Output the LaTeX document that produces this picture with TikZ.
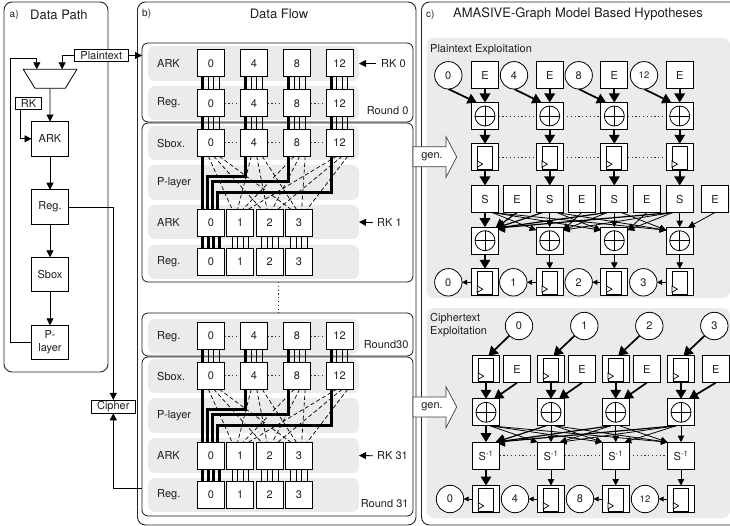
\documentclass[tikz,border=0pt]{standalone}
\usepackage{fontspec}
\setmainfont{TeX Gyre Heros}
\usetikzlibrary{arrows.meta}
\pgfdeclarelayer{back}\pgfdeclarelayer{wire}
\pgfsetlayers{back,wire,main}
\tikzset{
  x=1pt,y=-1pt,
  every node/.style={font=\fontsize{11}{13}\selectfont,text=black!88},
  panelbox/.style={draw=black!85,line width=0.9pt,rounded corners=8pt,fill=white,inner sep=0,outer sep=0},
  roundbox/.style={draw=black!90,line width=0.8pt,rounded corners=6pt,inner sep=0,outer sep=0},
  rowbox/.style={fill=black!8,rounded corners=7pt,inner sep=0,outer sep=0,minimum width=211pt},
  greypanel/.style={fill=black!8,rounded corners=7pt,inner sep=0,outer sep=0},
  lbl/.style={anchor=west,inner sep=0},
  cell/.style={draw=black,line width=0.8pt,fill=white,minimum size=27pt,inner sep=0,outer sep=0},
  dpbox/.style={draw=black,line width=0.8pt,fill=white,minimum width=37pt,minimum height=34.5pt,inner sep=0,outer sep=0,align=center},
  tagbox/.style={draw=black,line width=0.8pt,fill=white,inner sep=0,outer sep=0},
  ring/.style={circle,draw=black,line width=0.8pt,fill=white,minimum size=27.4pt,inner sep=0,outer sep=0},
  arr/.style={line width=0.8pt,-{Triangle[length=7pt,width=7pt]}},
  tharr/.style={line width=1.7pt,-{Triangle[length=9pt,width=10.5pt]}},
  tnarr/.style={line width=0.8pt,-{Triangle[length=6.5pt,width=6.5pt]}},
  smarr/.style={line width=0.8pt,-{Triangle[length=5pt,width=5pt]}},
  thinw/.style={line width=0.7pt},
  thickw/.style={line width=2.7pt},
  dashw/.style={line width=0.7pt,dash pattern=on 4pt off 2.6pt},
  dotw/.style={line width=0.8pt,dash pattern=on 1.2pt off 2.6pt,draw=black!80},
  genarrow/.style={draw=black!75,line width=0.7pt,fill=white},
}
% panel: style, name, x1, y1, x2, y2
\newcommand\pnl[6]{\node[#1,minimum width={(#5)-(#3)},minimum height={(#6)-(#4)}] (#2) at ({((#3)+(#5))/2},{((#4)+(#6))/2}) {};}
% gray row with label
\newcommand\rowbg[4]{\begin{pgfonlayer}{back}\node[rowbox,minimum height={(#4)-(#3)}] (#1) at (253.5,{((#3)+(#4))/2}) {};\end{pgfonlayer}
  \node[lbl] (#1t) at (157,{((#3)+(#4))/2}) {#2};}
\newcommand\cellsA[2]{\foreach \cx/\tt [count=\ii from 0] in {211/0,254/4,297/8,339.5/12}{\node[cell] (#1\ii) at (\cx,#2) {\tt};}}
\newcommand\cellsB[2]{\foreach \cx/\tt [count=\ii from 0] in {211/0,240.3/1,269.7/2,299/3}{\node[cell] (#1\ii) at (\cx,#2) {\tt};}}
\newcommand\busrow[2]{\foreach \ii in {0,1,2,3}{
  \draw[thickw] ([xshift=-8.2pt]#1\ii.south) -- ([xshift=-8.2pt]#2\ii.north);
  \foreach \oo in {-2.7,2.7,8.2}{\draw[thinw] ([xshift=\oo pt]#1\ii.south) -- ([xshift=\oo pt]#2\ii.north);}}}
\newcommand\busout[2]{\foreach \oo in {-8.2,-2.7,2.7,8.2}{
  \draw[thickw] ([xshift=\oo pt]#10.south) -- ([xshift=\oo pt]#20.north);
  \foreach \ii in {1,2,3}{\draw[thinw] ([xshift=\oo pt]#1\ii.south) -- ([xshift=\oo pt]#2\ii.north);}}}
\newcommand\dotrow[1]{\foreach \pa/\pb in {0/1,1/2,2/3}{\draw[dotw] (#1\pa.east) -- (#1\pb.west);}}
\newcommand\player[2]{%
  \foreach \dk/\dok in {1/-2.7,2/2.7,3/8.2}{\foreach \dc/\doc in {0/-8.2,1/-2.7,2/2.7,3/8.2}{
    \draw[dashw] ([xshift=\dok pt]#1\dc.south) -- ([xshift=\doc pt]#2\dk.north);}}
  \draw[thickw] ([xshift=-8.2pt]#10.south) -- ([xshift=-8.2pt]#20.north);
  \draw[thickw] ([xshift=-8.2pt]#11.south) -- ++(0,20.5) -| ([xshift=-3.3pt]#20.north);
  \draw[thickw] ([xshift=-8.2pt]#12.south) -- ++(0,25.5) -| ([xshift=1.3pt]#20.north);
  \draw[thickw] ([xshift=-8.2pt]#13.south) -- ++(0,36.5) -| ([xshift=6.7pt]#20.north);}
% glyph cells
\newcommand\xorcell[3]{\node[cell] (#1) at (#2,#3) {};
  \draw[line width=0.8pt] (#1.center) circle[radius=10pt];
  \draw[line width=0.8pt] (#1.center) ++(-10,0) -- ++(20,0);
  \draw[line width=0.8pt] (#1.center) ++(0,-10) -- ++(0,20);}
\newcommand\flopcell[3]{\node[cell] (#1) at (#2,#3) {};
  \draw[line width=0.8pt] (#1.center) ++(-7.7,-10.7) rectangle ++(15,22.7);
  \draw[line width=0.7pt,fill=white] (#1.center) ++(-7.7,3.7) -- ++(0,6.3) -- ++(5.4,-3.15) -- cycle;}
\begin{document}
\begin{tikzpicture}
\useasboundingbox (0,0) rectangle (730,526);
\begin{pgfonlayer}{back}
\pnl{panelbox}{pa}{4}{2}{108}{372}
\pnl{panelbox}{pb}{137.5}{2}{416}{525}
\pnl{panelbox}{pcc}{421.5}{2}{745}{525}
\pnl{roundbox}{rd0}{142}{43}{413}{122}
\pnl{roundbox}{rd1}{142}{123}{413}{282}
\pnl{roundbox}{rd30}{142}{313}{413}{356}
\pnl{roundbox}{rd31}{142}{357}{413}{516}
\pnl{greypanel}{gp1}{426.5}{38}{730}{298}
\pnl{greypanel}{gp2}{426.5}{308}{730}{518}
\end{pgfonlayer}
% titles
\node[lbl,font=\fontsize{10}{12}\selectfont] (ta) at (9.5,15) {a)};
\node[lbl,font=\fontsize{13}{15}\selectfont] (tb) at (30,15) {Data Path};
\node[lbl,font=\fontsize{10}{12}\selectfont] (tc) at (142,14) {b)};
\node[font=\fontsize{13}{15}\selectfont,inner sep=0] (td) at (279,14) {Data Flow};
\node[lbl,font=\fontsize{10}{12}\selectfont] (te) at (426,14.5) {c)};
\node[lbl,font=\fontsize{13}{15}\selectfont] (tf) at (453,14.5) {AMASIVE-Graph Model Based Hypotheses};
% panel a
\node[tagbox,minimum width=53.3pt,minimum height=12.4pt] (plain) at (101.3,55.5) {Plaintext};
\coordinate (fb) at (10.7,58.7);
\node[inner sep=0,outer sep=0,minimum width=53.7pt,minimum height=19pt] (mux) at (50.1,78.8) {};
\draw[line width=0.8pt,fill=white] (mux.north west) -- (mux.north east) -- ([xshift=-11.7pt]mux.south east) -- ([xshift=11.7pt]mux.south west) -- cycle;
\node[tagbox,minimum width=25.6pt,minimum height=11.6pt] (rkt) at (28.5,103.5) {RK};
\node[dpbox] (dark) at (50,138.8) {ARK};
\node[dpbox] (dreg) at (50,207) {Reg.};
\node[dpbox] (dsb) at (50,274.6) {Sbox};
\node[dpbox] (dpl) at (50,342.5) {P-\\layer};
\node[tagbox,minimum width=43.3pt,minimum height=13.3pt] (cipher) at (113.3,406.6) {Cipher};
\begin{pgfonlayer}{wire}
\draw[arr] (plain.west) -| ([xshift=12pt]mux.north);
\draw[arr] (plain.east) -- (plain.east -| rd0.west);
\draw[arr] (dpl.west) -| (fb) -| ([xshift=-13.3pt]mux.north);
\draw[arr] (mux.south) -- (dark.north);
\draw[arr] ([xshift=-7.8pt]rkt.south) |- (dark.west);
\draw[arr] (dark.south) -- (dreg.north);
\draw[arr] (dreg.south) -- (dsb.north);
\draw[arr] (dsb.south) -- (dpl.north);
\draw[arr] (dreg.east) -| (cipher.north);
\coordinate (cin) at (0,488.3);
\draw[arr] (cin -| rd31.west) -| (cipher.south);
\end{pgfonlayer}
% panel b rows
\rowbg{ra}{ARK}{46}{81}
\rowbg{rb}{Reg.}{86}{120}
\rowbg{rc}{Sbox.}{126}{160}
\rowbg{rd}{P-layer}{165}{200}
\rowbg{re}{ARK}{205}{239}
\rowbg{rf}{Reg.}{245}{279}
\rowbg{rg}{Reg.}{319}{354}
\rowbg{rh}{Sbox.}{359}{393}
\rowbg{ri}{P-layer}{398}{433}
\rowbg{rj}{ARK}{438}{473}
\rowbg{rk}{Reg.}{478}{512}
\cellsA{aa}{63.3}
\cellsA{ab}{103.3}
\cellsA{ac}{142.7}
\cellsB{ae}{222.7}
\cellsB{af}{261.7}
\cellsA{ag}{336}
\cellsA{ah}{375.7}
\cellsB{aj}{455.7}
\cellsB{ak}{495}
\node[lbl] (k0) at (381,63.5) {RK 0};
\node[lbl] (k1) at (377,222.7) {RK 1};
\node[lbl] (k31) at (377,455.7) {RK 31};
\node[lbl] (r0) at (366.7,111) {Round 0};
\node[lbl] (r30) at (363.7,344.3) {Round30};
\node[lbl] (r31) at (360.7,504) {Round 31};
\coordinate (vdot) at (278,0);
\begin{pgfonlayer}{wire}
\busrow{aa}{ab}
\busrow{ab}{ac}
\busout{ae}{af}
\busrow{ag}{ah}
\busout{aj}{ak}
\player{ac}{ae}
\player{ah}{aj}
\dotrow{ab}
\dotrow{ac}
\dotrow{ag}
\dotrow{ah}
\draw[dotw] (rd1.south -| vdot) -- (rd30.north -| vdot);
\draw[arr] ([xshift=-5pt]k0.west) -- (ra.east);
\draw[arr] ([xshift=-4pt]k1.west) -- (re.east);
\draw[arr] ([xshift=-4pt]k31.west) -- (rj.east);
\end{pgfonlayer}
% panel c: plaintext
\node[lbl] (plt) at (430,49.5) {Plaintext Exploitation};
\node[lbl,align=left] (cit) at (430,325.5) {Ciphertext\\Exploitation};
\foreach \cx/\ex/\tt [count=\ii from 0] in {448.3/485/0,514/549.7/4,578.7/614.3/8,644/679.7/12}{
  \ifnum\ii=3\relax\node[ring,font=\fontsize{9.5}{11}\selectfont] (pc\ii) at (\cx,75.3) {\tt};\else\node[ring] (pc\ii) at (\cx,75.3) {\tt};\fi
  \node[cell] (pe\ii) at (\ex,75.3) {E};
  \xorcell{px\ii}{\ex}{116}
  \flopcell{pf\ii}{\ex}{157.3}
  \node[cell] (ps\ii) at (\ex,199) {S};
  \xorcell{py\ii}{\ex}{240.7}
  \flopcell{pg\ii}{\ex}{282.3}
}
\foreach \cx/\tt [count=\ii from 0] in {517/E,581.7/E,646.7/E,715/E}{\node[cell] (pb\ii) at (\cx,199) {\tt};}
\foreach \cx/\tt [count=\ii from 0] in {448.3/0,513.3/1,578.7/2,643.3/3}{\node[ring] (po\ii) at (\cx,282.3) {\tt};}
\begin{pgfonlayer}{wire}
\foreach \ii in {0,1,2,3}{
  \draw[tharr] (pc\ii.south) -- ([xshift=-8.3pt]px\ii.north);
  \draw[tharr] (pe\ii.south) -- (px\ii.north);
  \draw[tharr] (px\ii.south) -- (pf\ii.north);
  \draw[tharr] (pf\ii.south) -- (ps\ii.north);
  \draw[smarr] (pg\ii.west) -- (po\ii.east);
}
\dotrow{px}
\dotrow{pf}
% S to XOR
\draw[tharr] (ps0.south) -- (py0.north);
\foreach \kk in {1,2,3}{\draw[tnarr] (ps\kk.south) -- (py\kk.north);}
\foreach \jj in {0,1,2}{\foreach \kk in {1,2,3}{
  \ifnum\jj<\kk\relax\draw[tnarr] ([xshift=7pt]ps\jj.south) -- ([yshift=-3pt]py\kk.north west);\fi}}
\foreach \jj in {1,2,3}{\draw[tharr,line width=1.2pt] ([xshift=-7pt]ps\jj.south) -- ([xshift=-3pt,yshift=-1pt]py0.north east);}
\draw[tnarr] ([xshift=-7pt]ps2.south) -- ([yshift=-3pt]py1.north east);
\draw[tnarr] ([xshift=-7pt]ps3.south) -- ([yshift=-3pt]py1.north east);
\draw[tnarr] ([xshift=-7pt]ps3.south) -- ([yshift=-3pt]py2.north east);
\draw[tharr,line width=1.2pt] (pb0.south) -- ([xshift=-3pt,yshift=-1pt]py0.north east);
\draw[tnarr] (pb1.south) -- ([yshift=-3pt]py1.north east);
\draw[tnarr] (pb2.south) -- ([yshift=-3pt]py2.north east);
\draw[tnarr] (pb3.south) -- ([xshift=-5pt]py3.north east);
\draw[tharr] (py0.south) -- (pg0.north);
\foreach \kk in {1,2,3}{\draw[tnarr] (py\kk.south) -- (pg\kk.north);}
\end{pgfonlayer}
% panel c: ciphertext
\foreach \cx/\ex/\ox/\tt [count=\ii from 0] in {519/486/517/0,584.3/551/582/1,649.3/615.7/646.7/2,714.3/681/715.7/3}{
  \node[ring] (qc\ii) at (\cx,326) {\tt};
  \flopcell{qf\ii}{\ex}{369.3}
  \node[cell] (qe\ii) at (\ox,369.3) {E};
  \xorcell{qx\ii}{\ex}{412.3}
  \node[cell] (qs\ii) at (\ex,455.7) {S\textsuperscript{-1}};
  \flopcell{qg\ii}{\ex}{499}
}
\foreach \cx/\tt [count=\ii from 0] in {450/0,515/4,580/8,645/12}{
  \ifnum\ii=3\relax\node[ring,font=\fontsize{9.5}{11}\selectfont] (qo\ii) at (\cx,499) {\tt};\else\node[ring] (qo\ii) at (\cx,499) {\tt};\fi}
\begin{pgfonlayer}{wire}
\foreach \ii in {0,1,2,3}{
  \draw[tharr] (qc\ii.south west) -- ([xshift=2.5pt]qf\ii.north);
  \draw[tharr] (qf\ii.south) -- (qx\ii.north);
  \draw[tharr] (qe\ii.south) -- ([xshift=8pt]qx\ii.north);
  \draw[smarr] (qg\ii.west) -- (qo\ii.east);
}
\dotrow{qs}
\draw[tharr] (qx0.south) -- (qs0.north);
\foreach \kk in {1,2,3}{\draw[tnarr] (qx\kk.south) -- (qs\kk.north);}
\foreach \jj in {0,1,2}{\foreach \kk in {1,2,3}{
  \ifnum\jj<\kk\relax\draw[tnarr] ([xshift=4pt]qx\jj.south) -- (qs\kk.north west);\fi}}
\foreach \jj in {1,2,3}{\draw[tharr,line width=1.2pt] ([xshift=-5pt]qx\jj.south) -- ([xshift=-4pt]qs0.north east);}
\draw[tnarr] ([xshift=-5pt]qx2.south) -- ([xshift=-4.5pt]qs1.north east);
\draw[tnarr] ([xshift=-5pt]qx3.south) -- ([xshift=-4.5pt]qs1.north east);
\draw[tnarr] ([xshift=-5pt]qx3.south) -- ([xshift=-4.5pt]qs2.north east);
\draw[tharr] (qs0.south) -- (qg0.north);
\foreach \kk in {1,2,3}{\draw[tnarr] (qs\kk.south) -- (qg\kk.north);}
\end{pgfonlayer}
% gen arrows
\draw[genarrow] (413,146.7) -- (446,146.7) -- (446,136.7) -- (456.7,156.9) -- (446,177.3) -- (446,166.7) -- (413,166.7) -- cycle;
\node[inner sep=0] (g1) at (432,156.5) {gen.};
\draw[genarrow] (413,397) -- (446,397) -- (446,386.7) -- (456.7,407) -- (446,427.7) -- (446,417) -- (413,417) -- cycle;
\node[inner sep=0] (g2) at (432,407) {gen.};
\end{tikzpicture}
\end{document}
